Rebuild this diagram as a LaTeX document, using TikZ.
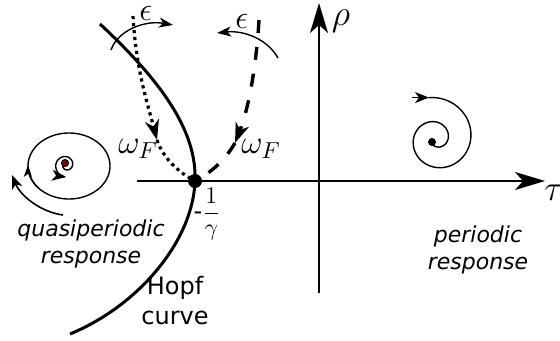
\RequirePackage{fix-cm}
\documentclass[tikz,border=0pt]{standalone}
\usepackage{fontspec}
\setmainfont{DejaVu Sans}
\usetikzlibrary{arrows.meta}
\definecolor{dotred}{RGB}{110,15,15}

\begin{document}
\begin{tikzpicture}[x=0.5pt,y=-0.5pt,
 >={Stealth[length=7pt,width=5.5pt,inset=2pt]},
 axis/.style={line width=1pt,-{Stealth[length=15pt,width=9pt,inset=4pt]}},
 hopf/.style={line width=1.5pt},
 pathdot/.style={line width=1.6pt,dash pattern=on 1.6pt off 1.9pt},
 pathdash/.style={line width=1.7pt,dash pattern=on 6.5pt off 7pt},
 midarr/.style={-{Stealth[length=10pt,width=7pt,inset=3pt]}},
 epsarr/.style={line width=0.7pt,-{Stealth[length=7pt,width=5pt,inset=2pt]}},
 spiral/.style={line width=0.7pt},
 mlab/.style={inner sep=0pt,font=\fontsize{16.5}{19}\selectfont},
 axlab/.style={inner sep=0pt,font=\fontsize{18}{21}\selectfont},
 lbl/.style={inner sep=0pt,align=center,font=\fontsize{11}{13.5}\selectfont\itshape},
 caplbl/.style={inner sep=0pt,align=center,font=\fontsize{12}{15}\selectfont},
 hdot/.style={circle,fill=black,inner sep=0pt,minimum size=7pt}]
\useasboundingbox (0,0) rectangle (560,341);
% axes
\coordinate (xl) at (137,181);
\coordinate (xr) at (545,181);
\coordinate (yb) at (319,293);
\coordinate (yt) at (319,3);
\draw[axis] (xl) -- (xr);
\draw[axis] (yb) -- (yt);
\node[axlab] (tau) at (554,193) {$\tau$};
\node[axlab] (rho) at (341,21) {$\rho$};
% Hopf curve and the two paths
\coordinate (H) at (195,181);
\coordinate (htop) at (100,24);
\coordinate (hbot) at (70,334);
\draw[hopf] (htop) .. controls (160,80) and (197,130) .. (H) .. controls (193,240) and (140,305) .. (hbot);
\coordinate (dtop) at (133,16);
\coordinate (dmid) at (157,140);
\draw[pathdot,midarr] (dtop) .. controls (136,70) and (148,105) .. (dmid);
\draw[pathdot] (dmid) .. controls (163,158) and (178,172) .. (H);
\coordinate (ktop) at (259,20);
\coordinate (kmid) at (235,143);
\draw[pathdash,midarr] (ktop) .. controls (256,70) and (248,110) .. (kmid);
\draw[pathdash] (kmid) .. controls (225,160) and (212,172) .. (H);
\node[hdot] (hp) at (H) {};
% epsilon arrows
\coordinate (ea1) at (111,50);
\coordinate (eb1) at (173,25);
\coordinate (ea2) at (278,58);
\coordinate (eb2) at (217,33);
\draw[epsarr] (ea1) .. controls (118,30) and (145,20) .. (eb1);
\draw[epsarr] (ea2) .. controls (268,40) and (245,30) .. (eb2);
\node[mlab] (eps1) at (146,13) {$\epsilon$};
\node[mlab] (eps2) at (242,21) {$\epsilon$};
\node[mlab] (omL) at (138,149) {$\omega_F$};
\node[mlab] (omR) at (261,149) {$\omega_F$};
\node[caplbl] (frac) at (207,214) {-$\displaystyle\frac{1}{\gamma}$};
% quasiperiodic side
\draw[spiral] plot[domain=0:360,samples=90,smooth] ({69+41*cos(\x)},{166+33*sin(\x)});
\draw[spiral,-{Stealth[length=6pt,width=4pt,inset=1.5pt]}] plot[domain=140:182,samples=10,smooth] ({69+41*cos(\x)},{166+33*sin(\x)});
\draw[spiral,->] plot[domain=0:450,samples=80,smooth] ({66+(3+9*\x/450)*cos(540-\x)},{165+(3+9*\x/450)*sin(540-\x)});
\node[circle,draw=black,fill=dotred,line width=0.5pt,inner sep=0pt,minimum size=3.5pt] (qdot) at (65,163) {};
\coordinate (qa) at (63,215);
\coordinate (qb) at (12,175);
\draw[spiral,line width=0.8pt,->] (qa) .. controls (40,212) and (20,195) .. (qb);
\node[lbl] (quasi) at (91,244) {quasiperiodic\\response};
% periodic side
\coordinate (pst) at (412,97.6);
\coordinate (ptip) at (429,97.6);
\draw[spiral,->] (pst) -- (ptip);
\draw[spiral] (ptip) -- plot[domain=-95:555,samples=160,smooth] ({436+(4+38*((560-\x)/660)^1.3)*cos(\x)},{139+(4+38*((560-\x)/660)^1.3)*sin(\x)});
\node[circle,fill=black,inner sep=0pt,minimum size=4pt] (pdot) at (432,142) {};
\node[lbl] (peri) at (478,250) {periodic\\response};
\node[caplbl] (hopfl) at (175,301) {Hopf\\curve};
\end{tikzpicture}
\end{document}
